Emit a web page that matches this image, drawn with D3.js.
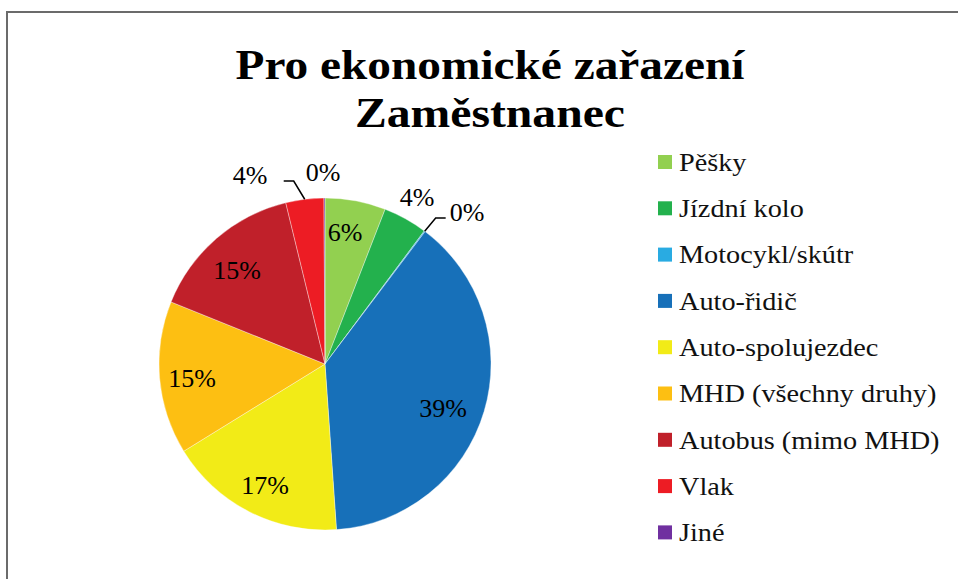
<!DOCTYPE html>
<html>
<head>
<meta charset="utf-8">
<script src="https://cdn.jsdelivr.net/npm/d3@7"></script>
<style>
  body { margin: 0; background: #fff; }
  svg { display: block; font-family: 'Liberation Serif', 'DejaVu Serif', serif; }
</style>
</head>
<body>
<div id="chart"></div>
<script>
// Data
const titleLines = ['Pro ekonomické zařazení', 'Zaměstnanec']
const categories = ['Pěšky', 'Jízdní kolo', 'Motocykl/skútr', 'Auto-řidič', 'Auto-spolujezdec',
  'MHD (všechny druhy)', 'Autobus (mimo MHD)', 'Vlak', 'Jiné']
const shares = [5.9, 4.3, 0.1, 38.6, 17.3, 14.9, 15.1, 3.7, 0.1]
const colors = ['#92d050', '#23b14d', '#29abe2', '#1770b9', '#f2eb17',
  '#fdbf12', '#c0202a', '#ed1c24', '#7030a0']

const width = 958, height = 579
const cx = 325, cy = 364, radius = 166

const svg = d3.select('#chart')
  .append('svg')
  .attr('width', width)
  .attr('height', height)

// Chart frame (only top and left edges are visible)
svg.append('path')
  .attr('d', `M7,${height} L7,12 L${width},12`)
  .attr('fill', 'none')
  .attr('stroke', '#6b6b6b')
  .attr('stroke-width', 2)

// Title
const titleWidths = [509, 270]
svg.append('g')
  .selectAll('text')
  .data(titleLines)
  .join('text')
  .attr('x', 490)
  .attr('y', (d, i) => 79 + i * 48)
  .attr('text-anchor', 'middle')
  .attr('font-size', 42)
  .attr('font-weight', 'bold')
  .attr('textLength', (d, i) => titleWidths[i])
  .attr('lengthAdjust', 'spacingAndGlyphs')
  .text(d => d)

// Pie
const total = d3.sum(shares)
const pie = d3.pie().sort(null).value(d => d)
const arcs = pie(shares)
const arc = d3.arc().innerRadius(0).outerRadius(radius)

const g = svg.append('g').attr('transform', `translate(${cx},${cy})`)

g.selectAll('path')
  .data(arcs)
  .join('path')
  .attr('d', arc)
  .attr('fill', (d, i) => colors[i])
  .attr('stroke', '#fff')
  .attr('stroke-width', 0.6)
  .attr('stroke-opacity', 0.6)

// Labels: inside for big slices, outside for small ones
const labelArcIn = d3.arc().innerRadius(radius * 0.72).outerRadius(radius * 0.72)
const outside = {
  1: { pos: [92, -167] },
  2: { pos: [142, -152], leader: true },
  7: { pos: [-75, -189], leader: true },
  8: { pos: [-2, -192] }
}
const inside = { 0: [20, -132], 3: [118, 44], 4: [-60, 121], 5: [-133, 14], 6: [-88, -94] }

const fmt = v => Math.round(v / total * 100) + '%'

arcs.forEach((d, i) => {
  let p
  if (outside[i]) {
    p = outside[i].pos
    if (outside[i].leader) {
      const a = (d.startAngle + d.endAngle) / 2
      const edge = [Math.sin(a) * radius, -Math.cos(a) * radius]
      const dir = p[0] > 0 ? 1 : -1
      const elbow = [edge[0] + dir * 11, p[1] + 6]
      g.append('polyline')
        .attr('points', [edge, elbow, [elbow[0] + dir * 10, elbow[1]]].map(q => q.join(',')).join(' '))
        .attr('fill', 'none')
        .attr('stroke', '#000')
        .attr('stroke-width', 1.5)
    }
  } else {
    p = inside[i] || labelArcIn.centroid(d)
  }
  g.append('text')
    .attr('x', p[0])
    .attr('y', p[1])
    .attr('dy', '0.35em')
    .attr('text-anchor', 'middle')
    .attr('font-size', 26)
    .attr('fill', '#000')
    .text(fmt(d.value))
})

// Legend
const legend = svg.append('g')
  .selectAll('g')
  .data(categories)
  .join('g')
  .attr('transform', (d, i) => `translate(658,${162 + i * 46.3})`)

legend.append('rect')
  .attr('x', 0)
  .attr('y', -7)
  .attr('width', 14)
  .attr('height', 14)
  .attr('fill', (d, i) => colors[i])

legend.append('text')
  .attr('x', 21)
  .attr('y', 0)
  .attr('dy', '0.35em')
  .attr('font-size', 25)
  .attr('fill', '#111')
  .text(d => d)
  .each(function () {
    // the original face is a little wider than Liberation Serif
    const len = this.getComputedTextLength()
    d3.select(this)
      .attr('textLength', len * 1.13)
      .attr('lengthAdjust', 'spacingAndGlyphs')
  })
</script>
</body>
</html>
